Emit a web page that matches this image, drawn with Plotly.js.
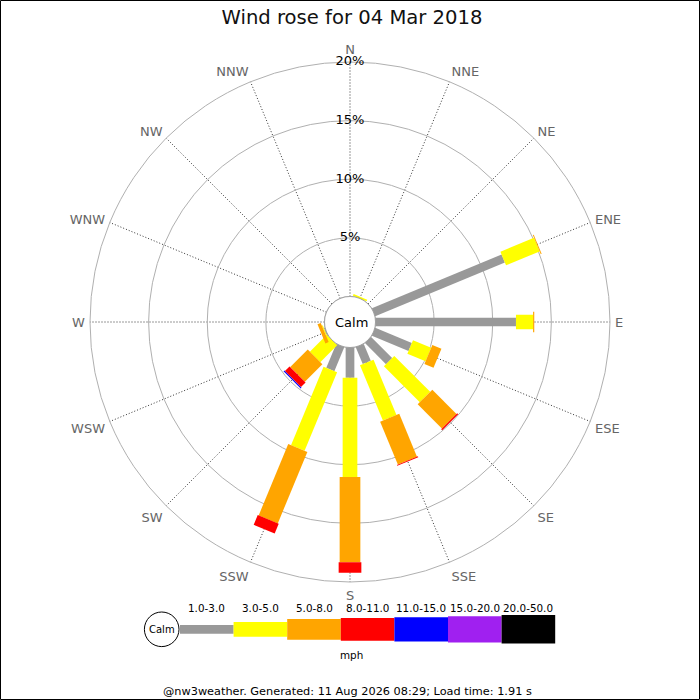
<!DOCTYPE html>
<html>
<head>
<meta charset="utf-8">
<script src="https://cdn.plot.ly/plotly-3.0.1.min.js"></script>
<style>
html,body{margin:0;padding:0;background:#fff;}
#chart{width:700px;height:700px;}
</style>
</head>
<body>
<div id="chart"></div>
<script>
// ---- data ----
const directions = ['N','NNE','NE','ENE','E','ESE','SE','SSE','S','SSW','SW','WSW','W','WNW','NW','NNW'];
const speedBins = ['1.0-3.0','3.0-5.0','5.0-8.0','8.0-11.0','11.0-15.0','15.0-20.0','20.0-50.0'];
// percentage of time per direction, per speed class (mph)
const bin1to3   = [0, 0,    0, 11.97, 11.98, 3.38, 2.54, 1.56, 2.58, 2.21, 0,    0.08, 0, 0, 0, 0];
const bin3to5   = [0, 0.15, 0, 3.10,  1.46,  1.68, 4.33, 5.11, 8.46, 7.25, 2.04, 0.08, 0, 0, 0, 0];
const bin5to8   = [0, 0,    0, 0.08,  0.10,  0.84, 2.92, 3.95, 7.27, 6.59, 2.11, 0.30, 0, 0, 0, 0];
const bin8to11  = [0, 0,    0, 0,     0,     0,    0.12, 0.08, 0.90, 0.90, 0.56, 0,    0, 0, 0, 0];
const bin11to15 = [0, 0,    0, 0,     0,     0,    0,    0,    0,    0,    0.09, 0,    0, 0, 0, 0];
const bin15to20 = [0, 0,    0, 0,     0,     0,    0,    0,    0,    0,    0,    0,    0, 0, 0, 0];
const bin20to50 = [0, 0,    0, 0,     0,     0,    0,    0,    0,    0,    0,    0,    0, 0, 0, 0];
const ringValues = [5, 10, 15, 20];
const ringLabels = ['5%', '10%', '15%', '20%'];
const titleText = 'Wind rose for 04 Mar 2018';
const unitText = 'mph';
const footerText = '@nw3weather. Generated: 11 Aug 2026 08:29; Load time: 1.91 s';

// ---- styles ----
const binColors = ['#999999','#ffff00','#ffa500','#ff0000','#0000ff','#a020f0','#000000'];
const binWidths = [8.7, 14.7, 20.7, 22.7, 24.3, 26.3, 28.5];
const FONT = 'DejaVu Sans, Verdana, sans-serif';
const W = 700, H = 700;
const px = x => x / W;
const py = y => 1 - y / H;

const allBins = [bin1to3, bin3to5, bin5to8, bin8to11, bin11to15, bin15to20, bin20to50];
const nDir = directions.length;
const dirTheta = directions.map((d, i) => i * 360 / nDir);

const traces = [];
const cum = directions.map(() => 0);
allBins.forEach((bin, k) => {
  const r = [], th = [];
  bin.forEach((v, i) => {
    if (v > 0) {
      r.push(cum[i], cum[i] + v, null);
      th.push(dirTheta[i], dirTheta[i], null);
    }
    cum[i] += v;
  });
  traces.push({
    type: 'scatterpolar', mode: 'lines', r: r, theta: th,
    line: {color: binColors[k], width: binWidths[k]},
    connectgaps: false, hoverinfo: 'skip', cliponaxis: false
  });
});

// calm circle at the hole edge
const circTheta = [];
for (let a = 0; a <= 360; a += 2) circTheta.push(a);
traces.push({
  type: 'scatterpolar', mode: 'lines', r: circTheta.map(() => 0), theta: circTheta,
  line: {color: '#999999', width: 1}, hoverinfo: 'skip', cliponaxis: false
});

// percentage labels along N axis
traces.push({
  type: 'scatterpolar', mode: 'text', r: ringValues, theta: ringValues.map(() => 0),
  text: ringLabels, textposition: 'middle center',
  textfont: {family: FONT, size: 13, color: '#000'},
  hoverinfo: 'skip', cliponaxis: false
});

// ---- legend (shapes + annotations) ----
const shapes = [];
const annotations = [];
const legX0 = 180, legStep = 53.6, legY = 629.3;
speedBins.forEach((lab, k) => {
  const x0 = legX0 + k * legStep;
  const hh = binWidths[k] / 2;
  shapes.push({type: 'rect', xref: 'paper', yref: 'paper',
    x0: px(x0), x1: px(x0 + legStep), y0: py(legY + hh), y1: py(legY - hh),
    fillcolor: binColors[k], line: {width: 0}});
  annotations.push({xref: 'paper', yref: 'paper', x: px(x0 + legStep / 2), y: py(607.5),
    text: lab, showarrow: false, xanchor: 'center', yanchor: 'middle',
    font: {family: FONT, size: 10.4, color: '#000'}});
});
shapes.push({type: 'circle', xref: 'paper', yref: 'paper',
  x0: px(161.7 - 17.3), x1: px(161.7 + 17.3), y0: py(629.3 + 17.3), y1: py(629.3 - 17.3),
  fillcolor: '#fff', line: {color: '#000', width: 1}});
annotations.push({xref: 'paper', yref: 'paper', x: px(161.7), y: py(629.5), text: 'Calm',
  showarrow: false, xanchor: 'center', yanchor: 'middle', font: {family: FONT, size: 10, color: '#000'}});
annotations.push({xref: 'paper', yref: 'paper', x: px(351), y: py(654.5), text: unitText,
  showarrow: false, xanchor: 'center', yanchor: 'middle', font: {family: FONT, size: 10.4, color: '#000'}});
annotations.push({xref: 'paper', yref: 'paper', x: px(347), y: py(691.5), text: footerText,
  showarrow: false, xanchor: 'center', yanchor: 'middle', font: {family: FONT, size: 11.3, color: '#000'}});
annotations.push({xref: 'paper', yref: 'paper', x: px(351), y: py(322.3), text: 'Calm',
  showarrow: false, xanchor: 'center', yanchor: 'middle', font: {family: FONT, size: 13, color: '#000'}});
// outer border
shapes.push({type: 'rect', xref: 'paper', yref: 'paper',
  x0: px(0.5), x1: px(699.5), y0: py(699.5), y1: py(0.5), line: {color: '#000', width: 1}});

const layout = {
  width: W, height: H,
  margin: {l: 0, r: 0, t: 0, b: 0, pad: 0},
  paper_bgcolor: '#fff',
  showlegend: false,
  hovermode: false,
  title: {text: titleText, x: px(352), xanchor: 'center', y: py(17), yanchor: 'middle',
    xref: 'paper', yref: 'paper',
    font: {family: FONT, size: 19.6, color: '#111'}},
  polar: {
    domain: {x: [px(90), px(610)], y: [py(582), py(62)]},
    hole: 25.5 / 260,
    bgcolor: '#fff',
    radialaxis: {
      range: [0, 20], tickvals: ringValues, showticklabels: false, ticks: '',
      showline: false, gridcolor: '#b0b0b0', gridwidth: 1, angle: 90, layer: 'below traces'
    },
    angularaxis: {
      rotation: 90, direction: 'clockwise', thetaunit: 'degrees',
      tickmode: 'array', tickvals: dirTheta, ticktext: directions,
      ticks: 'outside', ticklen: 2, tickcolor: 'rgba(0,0,0,0)',
      showline: true, linecolor: '#b0b0b0', linewidth: 1,
      gridcolor: '#333', gridwidth: 1, griddash: '1px,2px', layer: 'below traces',
      tickfont: {family: FONT, size: 13, color: '#666'}
    }
  },
  shapes: shapes,
  annotations: annotations
};

Plotly.newPlot('chart', traces, layout, {staticPlot: true, displayModeBar: false});
</script>
</body>
</html>
